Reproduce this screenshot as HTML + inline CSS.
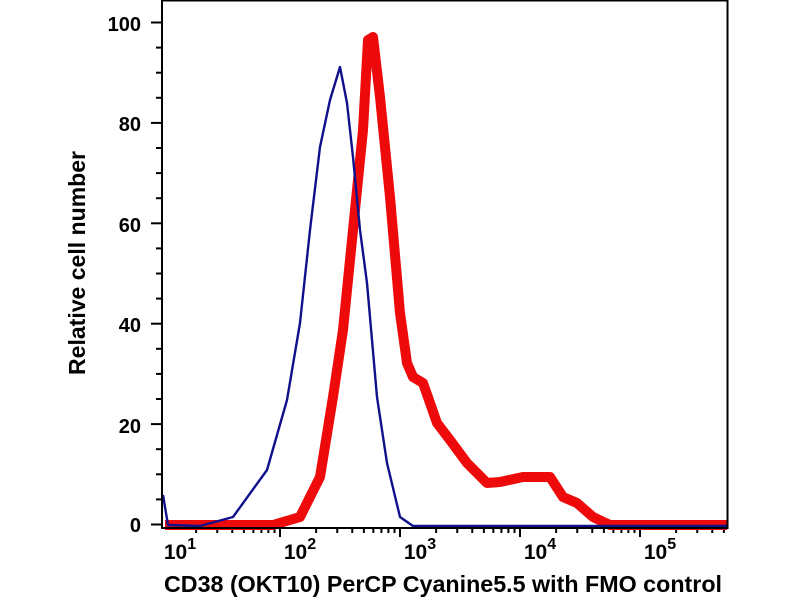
<!DOCTYPE html>
<html><head><meta charset="utf-8"><style>
body{margin:0;background:#fff;}
svg text{font-family:"Liberation Sans",Arial,sans-serif;font-weight:bold;fill:#000;}
</style></head><body>
<svg width="800" height="600" viewBox="0 0 800 600" xmlns="http://www.w3.org/2000/svg">
<rect width="800" height="600" fill="#fff"/>
<g id="ticks" stroke="#000" stroke-width="2"></g>
<!-- red -->
<polyline fill="none" stroke="#ee0a0a" stroke-width="10" stroke-linejoin="round" points="165,525 273,525 300,517 320,477 333,397 343,330 353,230 363,130 368,40 373,37 380,97 390,197 400,313 407,363 413,377 423,383 437,423 450,440 467,463 487,483 500,482 523,477 550,477 563,497 577,503 593,517 610,525 727,525"/>
<!-- blue -->
<polyline fill="none" stroke="#10108c" stroke-width="2.4" stroke-linejoin="round" points="163,495 168,525 200,526 233,517 267,470 287,400 300,323 310,230 320,147 330,100 340,67 347,103 353,157 360,230 367,283 377,397 387,463 400,517 413,526 727,526"/>
<rect x="162" y="0.5" width="565.5" height="527.5" fill="none" stroke="#000" stroke-width="2"/>
<g font-size="20" text-anchor="end">
<text x="141" y="31">100</text>
<text x="141" y="131">80</text>
<text x="141" y="232">60</text>
<text x="141" y="332">40</text>
<text x="141" y="433">20</text>
<text x="141" y="532">0</text>
</g>
<g font-size="21" text-anchor="middle">
<text x="180" y="559">10<tspan font-size="16" dy="-10">1</tspan></text>
<text x="300" y="559">10<tspan font-size="16" dy="-10">2</tspan></text>
<text x="420" y="559">10<tspan font-size="16" dy="-10">3</tspan></text>
<text x="540" y="559">10<tspan font-size="16" dy="-10">4</tspan></text>
<text x="660" y="559">10<tspan font-size="16" dy="-10">5</tspan></text>
</g>
<text x="443" y="592" font-size="23" text-anchor="middle" textLength="558" lengthAdjust="spacingAndGlyphs">CD38 (OKT10) PerCP Cyanine5.5 with FMO control</text>
<text transform="translate(85,263) rotate(-90)" font-size="23" text-anchor="middle" textLength="224" lengthAdjust="spacingAndGlyphs">Relative cell number</text>
</svg>
<script>
var g=document.getElementById('ticks'),s='';
for(var v=0;v<=100;v+=5){var y=524.5-v*5.02;var L=(v%20==0)?10:5;s+='<line x1="'+(161-L)+'" y1="'+y+'" x2="161" y2="'+y+'"/>';}
for(var d=0;d<5;d++){for(var k=1;k<=9;k++){var x=160+120*(d+Math.log10(k));if(x<161||x>728)continue;var L=(k==1)?9:5;s+='<line x1="'+x+'" y1="528" x2="'+x+'" y2="'+(528+L)+'"/>';}}
g.innerHTML=s;
</script>
</body></html>
